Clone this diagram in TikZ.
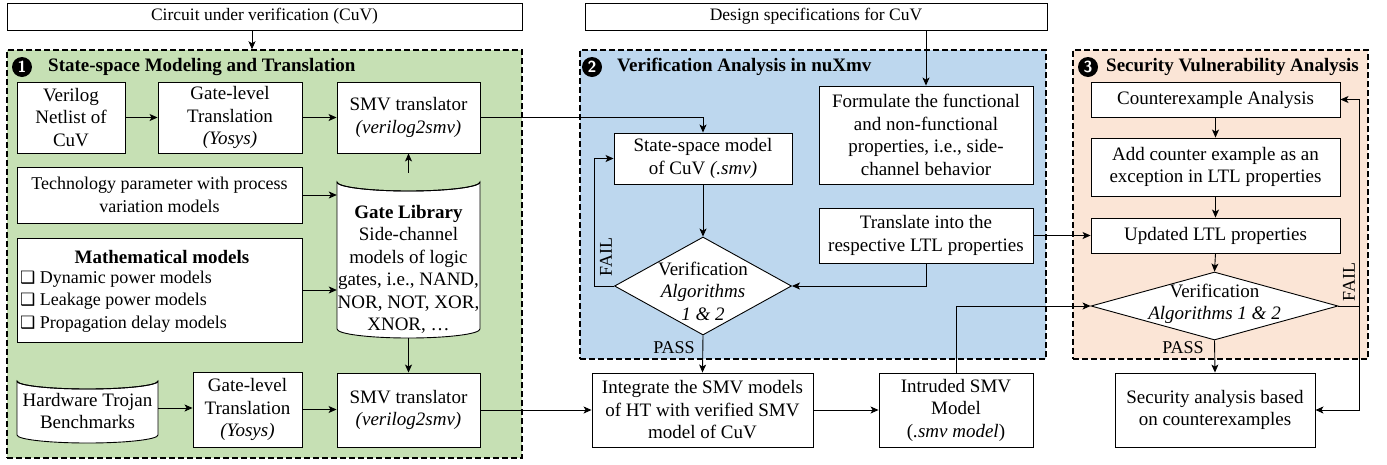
\documentclass[tikz,border=0pt]{standalone}
\usepackage{fontspec}
\setmainfont{Liberation Serif}
\newfontfamily\symfont{DejaVu Sans}
\usetikzlibrary{arrows.meta,calc,shapes.geometric}
\definecolor{pgreen}{RGB}{198,224,180}
\definecolor{pblue}{RGB}{189,215,238}
\definecolor{porange}{RGB}{251,229,214}
\newcommand{\fsbig}{\fontsize{19}{22.5}\selectfont}
\newcommand{\fsmid}{\fontsize{18}{22.5}\selectfont}
\newcommand{\fssmall}{\fontsize{17.5}{21}\selectfont}
\newcommand{\sqbox}{{\symfont\fontsize{17}{22.5}\selectfont ❑}}
\begin{document}
\begin{tikzpicture}[x=1pt,y=-1pt,
  font=\fsbig,
  box/.style={draw, fill=white, line width=0.9pt, align=center, inner sep=1pt},
  arr/.style={-{Stealth[length=8pt,width=7pt,inset=2pt]}, line width=0.9pt},
  panel/.style={draw, line width=1.5pt, dash pattern=on 6pt off 3pt, inner sep=0pt},
  num/.style={circle, fill=black, text=white, inner sep=0pt, minimum size=20pt, font=\fontsize{16}{16}\selectfont\sffamily\bfseries},
  ttl/.style={anchor=west, inner sep=0pt, font=\fontsize{19}{22}\selectfont\bfseries},
  dia/.style={diamond, draw, fill=white, line width=0.9pt, inner sep=0pt},
  lbl/.style={inner sep=0pt},
  cyl/.style={inner sep=0pt, align=center}
]
\useasboundingbox (0,0) rectangle (1387,464);

% top inputs
\node[box, font=\fssmall, minimum width=515, minimum height=27] (cuv) at (264.5,16.5) {Circuit under verification (CuV)};
\node[box, font=\fssmall, minimum width=462, minimum height=27] (spec) at (816,16.5) {Design specifications for CuV};

% panels
\node[panel, fill=pgreen, minimum width=515, minimum height=408] (p1) at (264.5,254) {};
\node[panel, fill=pblue, minimum width=466, minimum height=309] (p2) at (813,204.5) {};
\node[panel, fill=porange, minimum width=295, minimum height=309] (p3) at (1220.5,204.5) {};

\node[num] (n1) at (22,67) {1};
\node[ttl] (t1) at (48,67) {State-space Modeling and Translation};
\node[num] (n2) at (592,67) {2};
\node[ttl] (t2) at (617,67) {Verification Analysis in nuXmv};
\node[num] (n3) at (1088,67) {3};
\node[ttl] (t3) at (1106,67) {Security Vulnerability Analysis};

% panel 1
\node[box, minimum width=108, minimum height=71] (ver) at (71,117.5) {Verilog\\Netlist of\\CuV};
\node[box, minimum width=144, minimum height=71] (gate1) at (230,117.5) {Gate-level\\Translation\\\textit{(Yosys)}};
\node[box, minimum width=143, minimum height=71] (smv1) at (408.5,117.5) {SMV translator\\\textit{(verilog2smv)}};
\node[box, font=\fsmid, minimum width=285, minimum height=56] (tech) at (159.5,195) {Technology parameter with process\\variation models};
\node[box, minimum width=285, minimum height=104] (math) at (159.5,290) {};
\node[lbl, font=\fontsize{19}{22.5}\selectfont\bfseries] (matht) at (162,257) {Mathematical models};
\node[lbl, font=\fsmid, anchor=west, align=left] (mathl) at (20,301.5) {\sqbox\ Dynamic power models\\\sqbox\ Leakage power models\\\sqbox\ Propagation delay models};

% gate library cylinder
\node[cyl, minimum width=143, minimum height=165] (lib) at (408.5,255.5) {};
\draw[line width=0.9pt, fill=white] (337,182) -- (337,329) arc[start angle=180, end angle=360, x radius=71.5, y radius=-9] -- (480,182) arc[start angle=0, end angle=-180, x radius=71.5, y radius=-9] -- cycle;
\draw[line width=0.9pt] (337,182) arc[start angle=180, end angle=360, x radius=71.5, y radius=-9];
\node[lbl, align=center] (libt) at (408.5,269.5) {\textbf{Gate Library}\\Side-channel\\models of logic\\gates, i.e., NAND,\\NOR, NOT, XOR,\\XNOR, …};

% HT cylinder
\node[cyl, minimum width=141, minimum height=70] (ht) at (87.5,408) {};
\draw[line width=0.9pt, fill=white] (17,381) -- (17,435) arc[start angle=180, end angle=360, x radius=70.5, y radius=-8] -- (158,381) arc[start angle=0, end angle=-180, x radius=70.5, y radius=-8] -- cycle;
\draw[line width=0.9pt] (17,381) arc[start angle=180, end angle=360, x radius=70.5, y radius=-8];
\node[lbl, align=center] (htt) at (87.5,411) {Hardware Trojan\\Benchmarks};

\node[box, minimum width=109, minimum height=75] (gate2) at (247.5,409.5) {Gate-level\\Translation\\\textit{(Yosys)}};
\node[box, minimum width=143, minimum height=74] (smv2) at (408.5,410) {SMV translator\\\textit{(verilog2smv)}};

% panel 2
\node[box, minimum width=178, minimum height=51] (ssm) at (703,158.5) {State-space model\\of CuV \textit{(.smv)}};
\node[box, minimum width=214, minimum height=98] (form) at (926,135) {Formulate the functional\\and non-functional\\properties, i.e., side-\\channel behavior};
\node[box, minimum width=214, minimum height=55] (trans) at (926,235.5) {Translate into the\\respective LTL properties};
\node[dia, minimum width=177, minimum height=98] (dia2) at (703,286) {};
\node[lbl, align=center] (dia2t) at (703,291) {Verification\\\textit{Algorithms}\\\textit{1 \& 2}};

\node[box, minimum width=221, minimum height=74] (integ) at (702.5,410) {Integrate the SMV models\\of HT with verified SMV\\model of CuV};
\node[box, minimum width=154, minimum height=74] (intr) at (956,410) {Intruded SMV\\Model\\(\textit{.smv model})};

% panel 3
\node[box, minimum width=249, minimum height=35] (cex) at (1215.5,99.5) {Counterexample Analysis};
\node[box, minimum width=249, minimum height=58] (add) at (1215.5,167) {Add counter example as an\\exception in LTL properties};
\node[box, minimum width=249, minimum height=35] (upd) at (1215.5,235.5) {Updated LTL properties};
\node[dia, minimum width=247, minimum height=68] (dia3) at (1214.5,306) {};
\node[lbl, align=center] (dia3t) at (1214.5,304) {Verification\\\textit{Algorithms 1 \& 2}};
\node[box, minimum width=200, minimum height=74] (sec) at (1215,410) {Security analysis based\\on counterexamples};

% labels
\node[lbl, font=\fsmid, rotate=90] (fail2) at (606,257) {FAIL};
\node[lbl, font=\fsmid] (pass2) at (674,348) {PASS};
\node[lbl, font=\fsmid, rotate=90] (fail3) at (1349,282) {FAIL};
\node[lbl, font=\fsmid] (pass3) at (1183,348) {PASS};

% connectors
\draw[arr] ([xshift=-12.5pt]cuv.south) -- ([xshift=-12.5pt]p1.north);
\draw[arr] (spec.south -| form.north) -- (form.north);
\draw[arr] (ver.east) -- (gate1.west);
\draw[arr] (gate1.east) -- (smv1.west);
\draw[arr] (smv1.east) -| (ssm.north);
\draw[arr] (tech.east) -- (tech.east -| lib.west);
\draw[arr] (math.east) -- (math.east -| lib.west);
\draw[arr] (lib.north) -- (smv1.south);
\draw[arr] (lib.south) -- (smv2.north);
\draw[arr] (ht.east) -- (ht.east -| gate2.west);
\draw[arr] (gate2.east) -- (gate2.east -| smv2.west);
\draw[arr] (smv2.east) -- (integ.west);
\draw[arr] (ssm.south) -- (dia2.north);
\draw[arr] (dia2.west) -- ++(-20,0) |- (ssm.west);
\draw[arr] (trans.south) |- (dia2.east);
\draw[arr] (dia2.south) -- (integ.north);
\draw[arr] (integ.east) -- (intr.west);
\draw[arr] (intr.north) |- (dia3.west);
\draw[arr] (trans.east) -- (upd.west);
\draw[arr] (cex.south) -- (add.north);
\draw[arr] (add.south) -- (upd.north);
\draw[arr] (upd.south) -- (dia3.north);
\draw[arr] (dia3.south) -- (sec.north);
\draw[arr] (dia3.east) -- ++(21,0) |- (cex.east);
\draw[arr] ([xshift=21pt]dia3.east) |- (sec.east);
\end{tikzpicture}
\end{document}
